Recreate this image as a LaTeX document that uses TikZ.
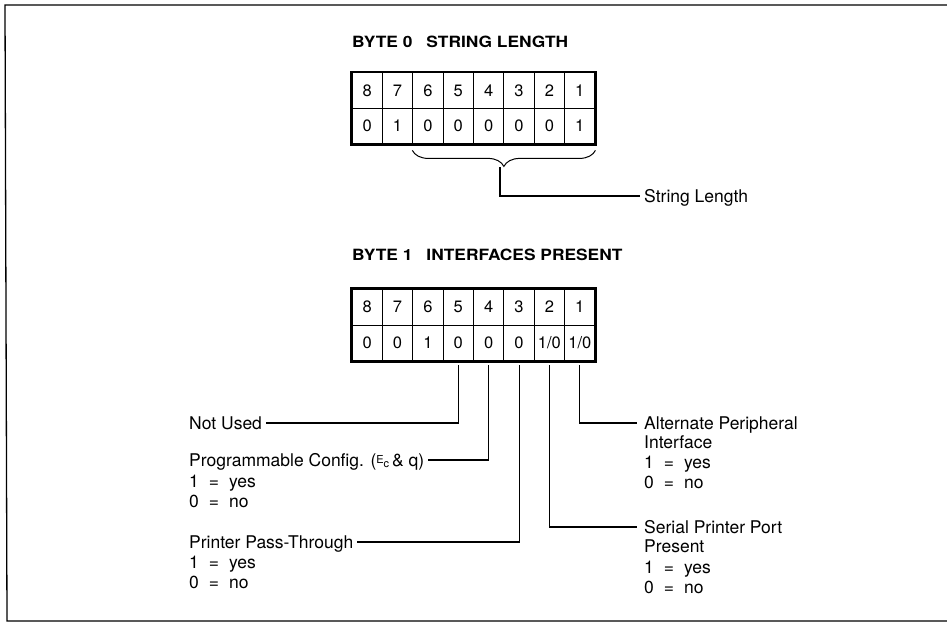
\documentclass[tikz,border=0pt]{standalone}
\usepackage{fontspec}
\setmainfont{TeX Gyre Heros}
\newfontfamily\titlefont[FakeStretch=1.12]{TeX Gyre Heros}
\usetikzlibrary{decorations.pathreplacing}
\newcommand\escchar{\raisebox{3pt}{\fontsize{11}{11}\selectfont E}\raisebox{-1.5pt}{\fontsize{11}{11}\selectfont c}}
\begin{document}
\begin{tikzpicture}[x=1pt,y=-1pt,
    cell/.style={draw,line width=0.8pt,minimum width=30.4pt,minimum height=36pt,inner sep=0pt,font=\fontsize{16.5}{16}\selectfont},
    lbl/.style={anchor=west,inner sep=0pt,text height=12pt,text depth=0pt,font=\fontsize{17.5}{20}\selectfont},
    ttl/.style={anchor=west,inner sep=0pt,font=\titlefont\bfseries\fontsize{15.5}{16}\selectfont},
    lead/.style={line width=1.1pt}]
    \useasboundingbox (0,0) rectangle (947,626);
    \draw[line width=1.3pt] (947,5) -- (5,5) -- (7,621) -- (947,621);
    \node[ttl] (t0) at (352,42) {BYTE 0\hspace{14pt}STRING LENGTH};
    \foreach \b [count=\i] in {8,7,...,1}
        \node[cell] (b0n\i) at ({352+(\i-0.5)*30.375},90.5) {\b};
    \foreach \v [count=\i] in {0,1,0,0,0,0,0,1}
        \node[cell] (b0v\i) at ({352+(\i-0.5)*30.375},126) {\v};
    \draw[line width=2.4pt] (b0n1.north west) rectangle (b0v8.south east);
    \draw[decorate,decoration={brace,mirror,amplitude=16pt},line width=1pt] ([yshift=-6pt]b0v3.south west) -- ([yshift=-6pt]b0v8.south east);
    \coordinate (tip) at (500,167);
    \node[lbl] (strlen) at (644,196) {String Length};
    \draw[lead] (tip) |- ([xshift=-4pt]strlen.west);
    \node[ttl] (t1) at (352,255) {BYTE 1\hspace{14pt}INTERFACES PRESENT};
    \foreach \b [count=\i] in {8,7,...,1}
        \node[cell] (b1n\i) at ({352+(\i-0.5)*30.375},307) {\b};
    \foreach \v [count=\i] in {0,0,1,0,0,0,{1/0},{1/0}}
        \node[cell] (b1v\i) at ({352+(\i-0.5)*30.375},343) {\v};
    \draw[line width=2.4pt] (b1n1.north west) rectangle (b1v8.south east);
    \node[lbl] (notused) at (189,423) {Not Used};
    \node[lbl] (progcfg) at (189,460) {Programmable Config. (\escchar\,\& q)};
    \node[lbl] (progyes) at (189,481) {1\hspace{10pt}=\hspace{10pt}yes};
    \node[lbl] (progno) at (189,501) {0\hspace{10pt}=\hspace{10pt}no};
    \node[lbl] (passthru) at (189,542) {Printer Pass-Through};
    \node[lbl] (passyes) at (189,562) {1\hspace{10pt}=\hspace{10pt}yes};
    \node[lbl] (passno) at (189,582) {0\hspace{10pt}=\hspace{10pt}no};
    \node[lbl] (altper) at (644,423) {Alternate Peripheral};
    \node[lbl] (altif) at (644,442) {Interface};
    \node[lbl] (altyes) at (644,462) {1\hspace{10pt}=\hspace{10pt}yes};
    \node[lbl] (altno) at (644,482) {0\hspace{10pt}=\hspace{10pt}no};
    \node[lbl] (serport) at (644,527) {Serial Printer Port};
    \node[lbl] (serpres) at (644,546) {Present};
    \node[lbl] (seryes) at (644,567) {1\hspace{10pt}=\hspace{10pt}yes};
    \node[lbl] (serno) at (644,587) {0\hspace{10pt}=\hspace{10pt}no};
    \draw[lead] ([yshift=-4pt]b1v4.south) |- ([xshift=4pt]notused.east);
    \draw[lead] ([yshift=-4pt]b1v5.south) |- ([xshift=4pt]progcfg.east);
    \draw[lead] ([yshift=-4pt]b1v6.south) |- ([xshift=4pt]passthru.east);
    \draw[lead] ([yshift=-4pt]b1v7.south) |- ([xshift=-7pt]serport.west);
    \draw[lead] ([yshift=-4pt]b1v8.south) |- ([xshift=-7pt]altper.west);
\end{tikzpicture}
\end{document}
